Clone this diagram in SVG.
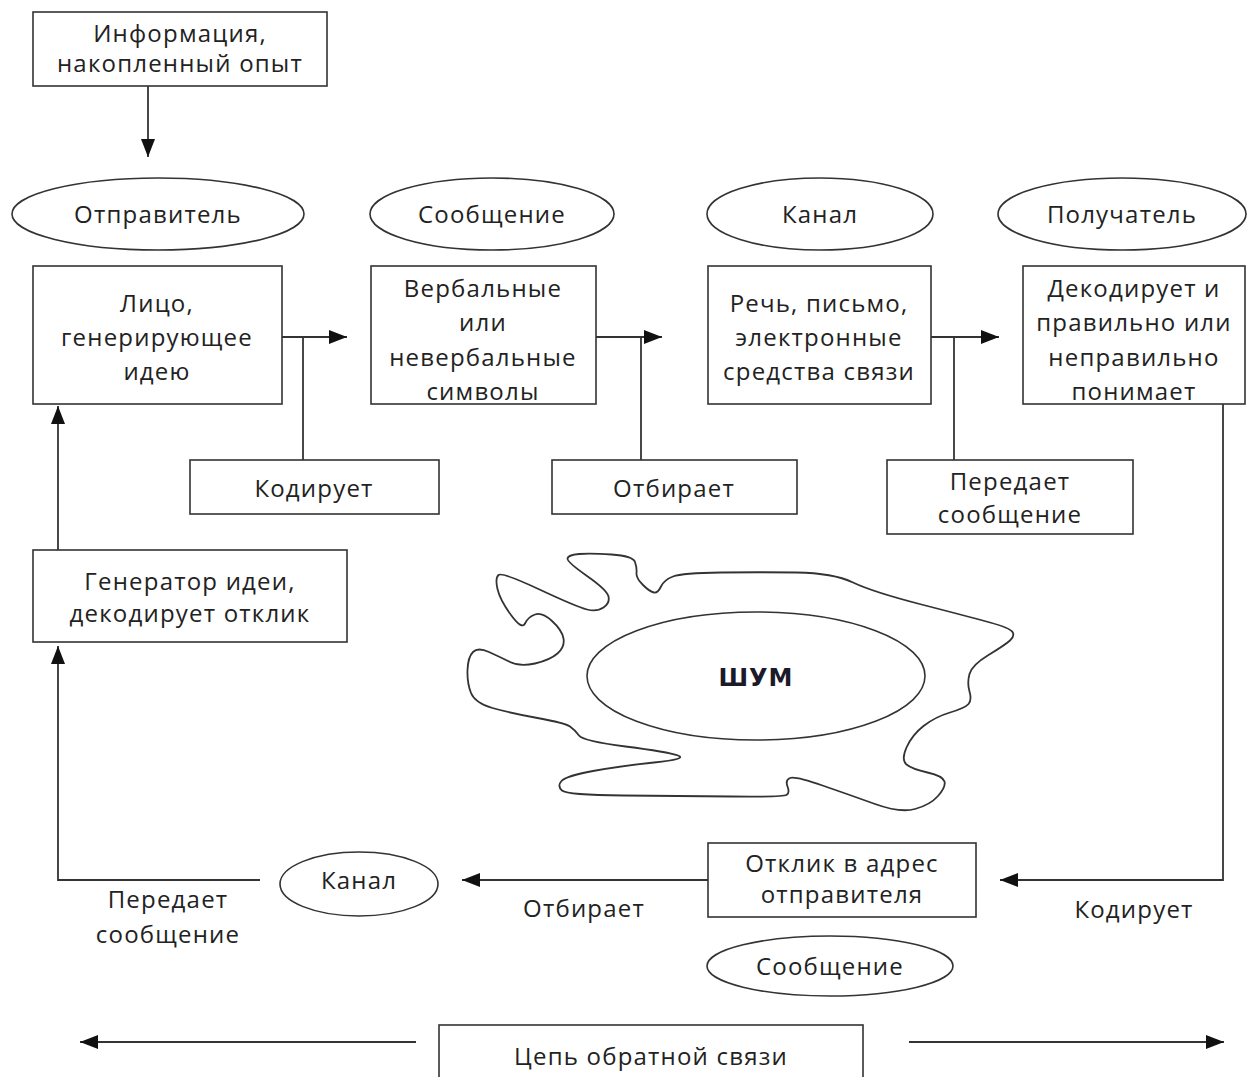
<svg xmlns="http://www.w3.org/2000/svg" width="1247" height="1077" viewBox="0 0 1247 1077">
<defs>
<style>
.t{font-family:"Open Sans","Noto Sans","DejaVu Sans",sans-serif;font-size:24px;fill:#222;text-anchor:middle;dominant-baseline:central;letter-spacing:1.2px}
.b{fill:#fff;stroke:#333;stroke-width:1.6}
.c{fill:none;stroke:#333;stroke-width:1.8}
.shum{font-family:"DejaVu Sans","Liberation Sans",sans-serif;font-size:24px;font-weight:bold;fill:#1a1a2a;text-anchor:middle;dominant-baseline:central;letter-spacing:1px}
</style>
<marker id="ah" markerUnits="userSpaceOnUse" markerWidth="20" markerHeight="16" refX="18" refY="8" orient="auto">
<path d="M0,1 L18,8 L0,15 Z" fill="#111"/>
</marker>
</defs>
<rect width="1247" height="1077" fill="#fff"/>

<g id="connectors">
<line class="c" x1="148" y1="86" x2="148" y2="157" marker-end="url(#ah)"/>
<line class="c" x1="282" y1="337" x2="347" y2="337" marker-end="url(#ah)"/>
<line class="c" x1="303" y1="337" x2="303" y2="460"/>
<line class="c" x1="596" y1="337" x2="662" y2="337" marker-end="url(#ah)"/>
<line class="c" x1="641" y1="337" x2="641" y2="460"/>
<line class="c" x1="931" y1="337" x2="999" y2="337" marker-end="url(#ah)"/>
<line class="c" x1="954" y1="337" x2="954" y2="460"/>
<polyline class="c" points="1223,404 1223,880 1000,880" marker-end="url(#ah)"/>
<line class="c" x1="708" y1="880" x2="462" y2="880" marker-end="url(#ah)"/>
<polyline class="c" points="260,880 58,880 58,646" marker-end="url(#ah)"/>
<line class="c" x1="58" y1="550" x2="58" y2="406" marker-end="url(#ah)"/>
<line class="c" x1="416" y1="1042" x2="80" y2="1042" marker-end="url(#ah)"/>
<line class="c" x1="909" y1="1042" x2="1224" y2="1042" marker-end="url(#ah)"/>
</g>

<g id="info">
<rect class="b" x="33" y="12" width="294" height="74"/>
<text class="t" x="180" y="32">Информация,</text>
<text class="t" x="180" y="62">накопленный опыт</text>
</g>

<g id="sender-label"><ellipse class="b" cx="158" cy="214" rx="146" ry="36"/><text class="t" x="158" y="213">Отправитель</text></g>
<g id="message-label"><ellipse class="b" cx="492" cy="214" rx="122" ry="36"/><text class="t" x="492" y="213">Сообщение</text></g>
<g id="channel-label"><ellipse class="b" cx="820" cy="214" rx="113" ry="36"/><text class="t" x="820" y="213">Канал</text></g>
<g id="receiver-label"><ellipse class="b" cx="1122" cy="214" rx="124" ry="36"/><text class="t" x="1122" y="213">Получатель</text></g>

<g id="person">
<rect class="b" x="33" y="266" width="249" height="138"/>
<text class="t" x="157" y="302">Лицо,</text>
<text class="t" x="157" y="336">генерирующее</text>
<text class="t" x="157" y="370">идею</text>
</g>
<g id="symbols">
<rect class="b" x="371" y="266" width="225" height="138"/>
<text class="t" x="483" y="287">Вербальные</text>
<text class="t" x="483" y="321">или</text>
<text class="t" x="483" y="356">невербальные</text>
<text class="t" x="483" y="390">символы</text>
</g>
<g id="media">
<rect class="b" x="708" y="266" width="223" height="138"/>
<text class="t" x="819" y="302">Речь, письмо,</text>
<text class="t" x="819" y="336">электронные</text>
<text class="t" x="819" y="370">средства связи</text>
</g>
<g id="decode">
<rect class="b" x="1023" y="266" width="222" height="138"/>
<text class="t" x="1134" y="287">Декодирует и</text>
<text class="t" x="1134" y="321">правильно или</text>
<text class="t" x="1134" y="356">неправильно</text>
<text class="t" x="1134" y="390">понимает</text>
</g>

<g id="encodes"><rect class="b" x="190" y="460" width="249" height="54"/><text class="t" x="314" y="487">Кодирует</text></g>
<g id="selects"><rect class="b" x="552" y="460" width="245" height="54"/><text class="t" x="674" y="487">Отбирает</text></g>
<g id="transmits"><rect class="b" x="887" y="460" width="246" height="74"/><text class="t" x="1010" y="480">Передает</text><text class="t" x="1010" y="513">сообщение</text></g>

<g id="generator">
<rect class="b" x="33" y="550" width="314" height="92"/>
<text class="t" x="190" y="580">Генератор идеи,</text>
<text class="t" x="190" y="612">декодирует отклик</text>
</g>

<g id="noise">
<path class="c" stroke-width="1.6" d="M567.5,558.5 Q568,555 579,554 Q590,553 611.5,554.5 Q633,556 635,562 Q637,568 636.5,573 Q636,578 643,585 Q650,592 654,592.5 Q658,593 661,586.5 Q664,580 673,576.5 Q682,573 721,572.5 Q760,572 796.5,572.5 Q833,573 853,582.5 Q873,592 921.5,604.5 Q970,617 990,622.5 Q1010,628 1012.5,632 Q1015,636 1010,640.5 Q1005,645 988.5,655 Q972,665 969.5,674 Q967,683 969.5,691.5 Q972,700 968.5,704 Q965,708 950,712.5 Q935,717 923.5,726 Q912,735 906.5,747.5 Q901,760 906.5,764.5 Q912,769 927.5,772.5 Q943,776 944.5,781.5 Q946,787 938,796 Q930,805 915,809 Q900,813 875,804 Q850,795 822.5,785.5 Q795,776 790,778 Q785,780 787.5,786.5 Q790,793 786.5,795 Q783,797 731.5,796.5 Q680,796 623.5,795.5 Q567,795 562,790.5 Q557,786 561.5,781 Q566,776 593,771 Q620,766 654,762.5 Q688,759 678,755.5 Q668,752 625.5,746.5 Q583,741 579,735.5 Q575,730 570,726.5 Q565,723 537.5,718 Q510,713 492.5,708 Q475,703 471,693 Q467,683 467.5,670 Q468,657 473,652 Q478,647 489,652 Q500,657 510,662 Q520,667 535,663.5 Q550,660 557.5,653.5 Q565,647 563.5,638.5 Q562,630 552,621 Q542,612 535,614.5 Q528,617 525,623.5 Q522,630 511,615 Q500,600 497.5,589 Q495,578 498.5,575 Q502,572 539.5,589.5 Q577,607 587,609.5 Q597,612 603.5,607.5 Q610,603 608.5,596.5 Q607,590 587,576 Q567,562 567.5,558.5 Z"/>
<ellipse class="b" cx="756" cy="676" rx="169" ry="64"/>
<text class="shum" x="756" y="678">ШУМ</text>
</g>

<g id="channel-back"><ellipse class="b" cx="359" cy="884" rx="79" ry="32"/><text class="t" x="359" y="879">Канал</text></g>
<g id="response">
<rect class="b" x="708" y="843" width="268" height="74"/>
<text class="t" x="842" y="862">Отклик в адрес</text>
<text class="t" x="842" y="893">отправителя</text>
</g>
<g id="message-back"><ellipse class="b" cx="830" cy="966" rx="123" ry="30"/><text class="t" x="830" y="965">Сообщение</text></g>

<g id="labels">
<text class="t" x="168" y="898">Передает</text>
<text class="t" x="168" y="933">сообщение</text>
<text class="t" x="584" y="907">Отбирает</text>
<text class="t" x="1134" y="908">Кодирует</text>
</g>

<g id="feedback">
<rect class="b" x="439" y="1025" width="424" height="70"/>
<text class="t" x="651" y="1055">Цепь обратной  связи</text>
</g>
</svg>
